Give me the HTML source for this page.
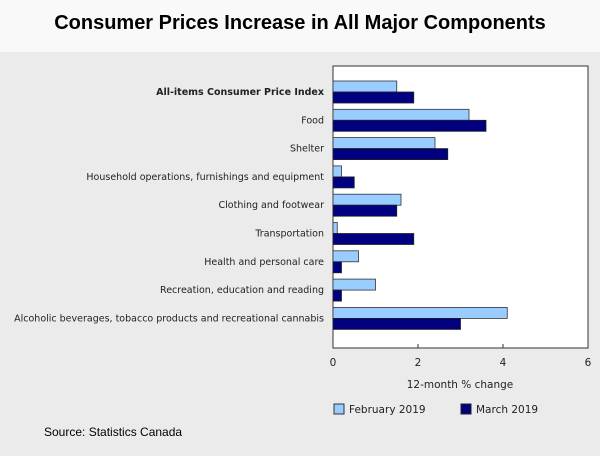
<!DOCTYPE html>
<html><head><meta charset="utf-8"><style>
body{margin:0;width:600px;height:456px;overflow:hidden;background:#ebebeb;font-family:"Liberation Sans",sans-serif}
#title{position:absolute;left:0;top:0;width:600px;height:52px;background:#f9f9f9;text-align:center;font-weight:bold;font-size:20px;line-height:46px;color:#000}
svg{position:absolute;left:0;top:0}
</style></head><body>
<div id="title">Consumer Prices Increase in All Major Components</div>
<svg id="chart" width="600" height="456"></svg>
<script>
const categories=["All-items Consumer Price Index","Food","Shelter","Household operations, furnishings and equipment","Clothing and footwear","Transportation","Health and personal care","Recreation, education and reading","Alcoholic beverages, tobacco products and recreational cannabis"];
const febValues=[1.5,3.2,2.4,0.2,1.6,0.1,0.6,1.0,4.1];
const marValues=[1.9,3.6,2.7,0.5,1.5,1.9,0.2,0.2,3.0];
const xTicks=[0,2,4,6];
const NS="http://www.w3.org/2000/svg";
const svg=document.getElementById('chart');
const x0=333,x1=588,top0=66,bot=348;
function xs(v){return x0+(x1-x0)*v/6;}
function yc(i){return 93+i*28.3;}
function mk(t,a,parent){const e=document.createElementNS(NS,t);for(const k in a)e.setAttribute(k,a[k]);(parent||svg).appendChild(e);return e;}
const plot=mk('rect',{x:x0,y:top0,width:x1-x0,height:bot-top0,fill:'#fff',stroke:'#333','stroke-width':1});


categories.forEach((c,i)=>{
  const t=mk('text',{x:324,y:yc(i)+2,'text-anchor':'end','font-size':'9.5px','font-family':'"DejaVu Sans",sans-serif',fill:'#222','font-weight':i==0?'bold':'normal'});
  t.textContent=c;
  
  
  const b1=mk('rect',{x:x0,y:yc(i)-12,width:xs(febValues[i])-x0,height:11,fill:'#99ccff',stroke:'#333','stroke-width':0.8});
  
  
  const b2=mk('rect',{x:x0,y:yc(i)-1,width:xs(marValues[i])-x0,height:11,fill:'#000080',stroke:'#222','stroke-width':0.8});
  
  
});
xTicks.forEach(v=>{
  mk('line',{x1:xs(v),x2:xs(v),y1:bot,y2:bot-4,stroke:'#333'});
  const t=mk('text',{x:xs(v),y:366,'text-anchor':'middle','font-size':'10.5px','font-family':'"DejaVu Sans",sans-serif',fill:'#222'});
  t.textContent=v;
  
  
});
const at=mk('text',{x:460,y:388,'text-anchor':'middle','font-size':'10.5px','font-family':'"DejaVu Sans",sans-serif',fill:'#222'});
at.textContent='12-month % change';


const l1=mk('rect',{x:334,y:404,width:10,height:10,fill:'#99ccff',stroke:'#333'});


const lt1=mk('text',{x:349,y:413,'font-size':'10.5px','font-family':'"DejaVu Sans",sans-serif',fill:'#222'});
lt1.textContent='February 2019';


const l2=mk('rect',{x:461,y:404,width:10,height:10,fill:'#000080',stroke:'#222'});


const lt2=mk('text',{x:476,y:413,'font-size':'10.5px','font-family':'"DejaVu Sans",sans-serif',fill:'#222'});
lt2.textContent='March 2019';


const src=mk('text',{x:44,y:436,'font-size':'12px',fill:'#000'});
src.textContent='Source: Statistics Canada';


</script>
</body></html>
